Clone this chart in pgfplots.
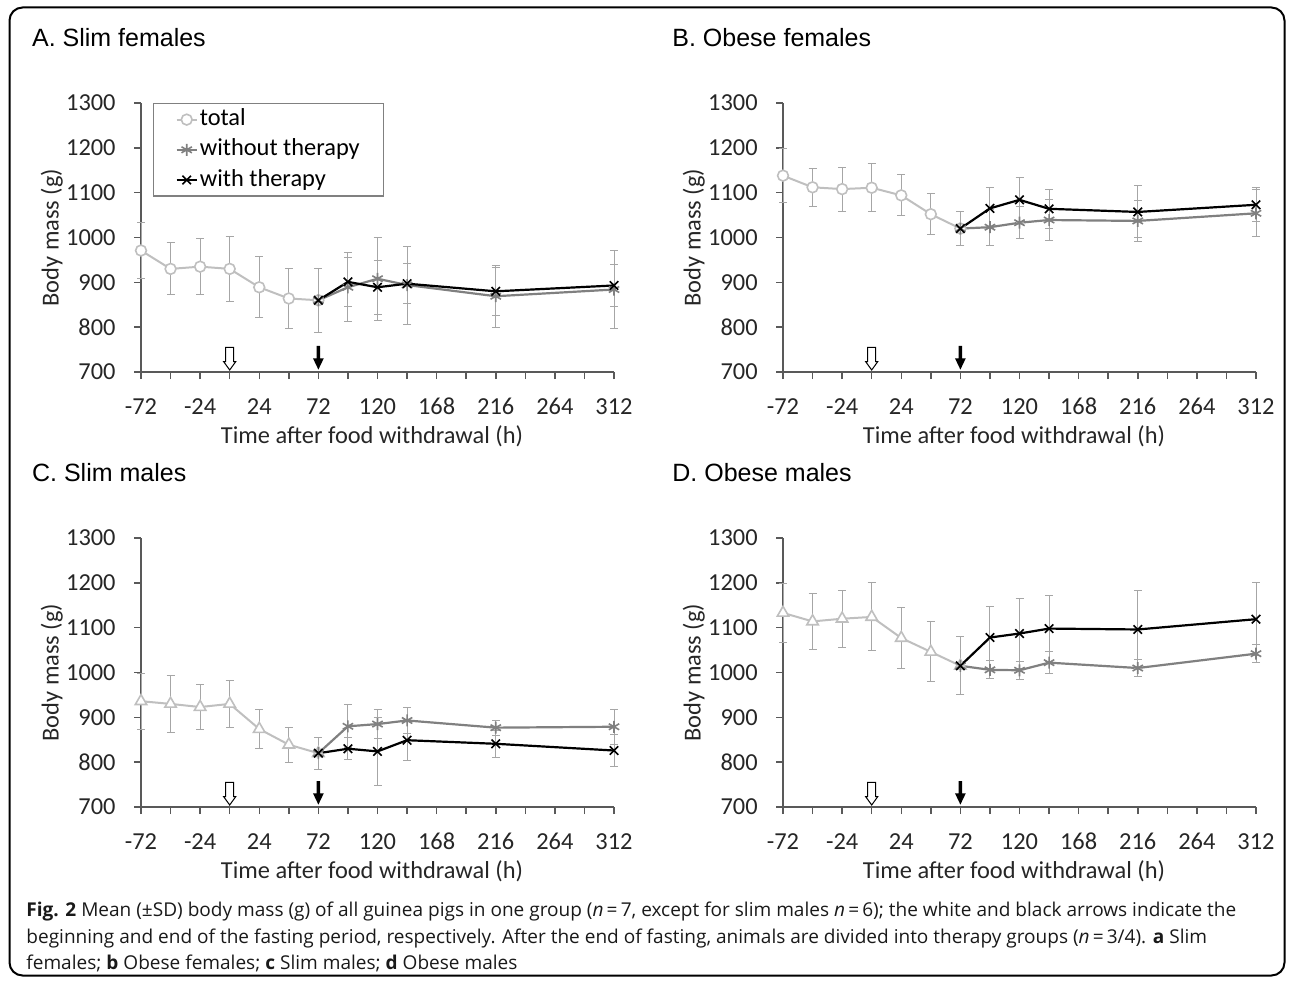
\documentclass[border=0pt]{standalone}
\usepackage{fontspec}
\setmainfont{Carlito}
\newfontfamily\arialfont{Liberation Sans}
\newfontfamily\capfont{Open Sans}
\usepackage{pgfplots}
\usepackage{pgfplotstable}
\pgfplotsset{compat=1.18}

\definecolor{totc}{HTML}{BFBFBF}
\definecolor{woc}{HTML}{808080}
\definecolor{axc}{HTML}{595959}
\definecolor{errc}{HTML}{A6A6A6}

% ---------- data: t = time (h), m = mean body mass (g), e = SD ----------
\pgfplotstableread{
t m e
-72 971 63
-48 930 58
-24 935 63
0 930 72
24 889 68
48 864 67
72 860 71
}\Atot
\pgfplotstableread{
t m e
72 860 0
96 889 77
120 908 93
144 894 87
216 869 69
312 884 88
}\Awo
\pgfplotstableread{
t m e
72 860 0
96 901 55
120 889 60
144 897 45
216 880 54
312 893 47
}\Awi
\pgfplotstableread{
t m e
-72 1138 60
-48 1112 43
-24 1108 49
0 1111 53
24 1094 46
48 1052 46
72 1020 38
}\Btot
\pgfplotstableread{
t m e
72 1020 0
96 1023 40
120 1033 36
144 1039 45
216 1037 45
312 1054 52
}\Bwo
\pgfplotstableread{
t m e
72 1020 0
96 1065 46
120 1084 50
144 1064 44
216 1057 58
312 1073 38
}\Bwi
\pgfplotstableread{
t m e
-72 936 62
-48 930 63
-24 923 51
0 930 53
24 874 43
48 839 39
72 820 36
}\Ctot
\pgfplotstableread{
t m e
72 820 0
96 880 48
120 885 32
144 893 29
216 877 17
312 879 39
}\Cwo
\pgfplotstableread{
t m e
72 820 0
96 830 24
120 824 76
144 849 46
216 841 30
312 826 35
}\Cwi
\pgfplotstableread{
t m e
-72 1133 66
-48 1114 62
-24 1120 64
0 1124 76
24 1077 68
48 1046 67
72 1015 65
}\Dtot
\pgfplotstableread{
t m e
72 1015 0
96 1006 20
120 1005 20
144 1022 24
216 1010 20
312 1042 20
}\Dwo
\pgfplotstableread{
t m e
72 1015 0
96 1078 70
120 1087 78
144 1098 73
216 1096 87
312 1119 82
}\Dwi

\pgfplotsset{
  panel/.style={
    scale only axis, width=236.5pt, height=134.5pt,
    anchor=south west, clip=false,
    xmin=-72, xmax=312, ymin=700, ymax=1300,
    axis lines=left, axis line style={-, draw=axc, line width=0.75pt},
    tick align=outside, major tick length=3.5pt,
    tick style={draw=axc, line width=0.75pt},
    xtick={-72,-48,...,312},
    xticklabels={-72,,-24,,24,,72,,120,,168,,216,,264,,312},
    ytick={700,800,...,1300},
    yticklabels={700,800,900,1000,1100,1200,1300},
    ticklabel style={font=\fontsize{12.2}{14}\selectfont, text=black!85, inner sep=0pt},
    xticklabel style={anchor=north, text height=9pt, text depth=0pt, yshift=-8.3pt},
    yticklabel style={anchor=east, xshift=-9pt},
    legend image code/.code={\draw[mark repeat=2,mark phase=2,##1] plot coordinates {(0pt,0pt) (5pt,0pt) (10pt,0pt)};},
  },
  ebar/.style={error bars/.cd, y dir=both, y explicit,
    error bar style={draw=errc, line width=0.5pt},
    error mark options={rotate=90, draw=errc, mark size=2pt, line width=0.5pt}},
  totcirc/.style={draw=totc, line width=1pt, mark=*, mark size=2.7pt,
    mark options={fill=white, draw=totc, line width=0.8pt, solid}},
  tottri/.style={draw=totc, line width=1pt, mark=triangle*, mark size=3.3pt,
    mark options={fill=white, draw=totc, line width=0.8pt, solid}},
  wo/.style={draw=woc, line width=1.1pt, mark=asterisk, mark size=3pt,
    mark options={draw=woc, line width=0.8pt}},
  wi/.style={draw=black, line width=1.1pt, mark=x, mark size=3pt,
    mark options={draw=black, line width=0.8pt}},
}

\newcommand{\fastarrows}{%
  \filldraw[fill=white, draw=black, line width=0.5pt]
    ([shift={(-2pt,12.35pt)}]axis cs:0,700) -- ([shift={(2pt,12.35pt)}]axis cs:0,700)
    -- ([shift={(2pt,5.15pt)}]axis cs:0,700) -- ([shift={(3pt,5.15pt)}]axis cs:0,700)
    -- ([shift={(0pt,1pt)}]axis cs:0,700) -- ([shift={(-3pt,5.15pt)}]axis cs:0,700)
    -- ([shift={(-2pt,5.15pt)}]axis cs:0,700) -- cycle;
  \fill[black]
    ([shift={(-0.85pt,13pt)}]axis cs:72,700) -- ([shift={(0.85pt,13pt)}]axis cs:72,700)
    -- ([shift={(0.85pt,6.85pt)}]axis cs:72,700) -- ([shift={(2.7pt,6.85pt)}]axis cs:72,700)
    -- ([shift={(0pt,1.2pt)}]axis cs:72,700) -- ([shift={(-2.7pt,6.85pt)}]axis cs:72,700)
    -- ([shift={(-0.85pt,6.85pt)}]axis cs:72,700) -- cycle;
}

\begin{document}
\begin{tikzpicture}[x=0.5pt,y=0.5pt]
\useasboundingbox (0,0) rectangle (1295,982);
\draw[line width=1pt, rounded corners=6.5pt] (9.5,974.5) rectangle (1284.5,6.5);

% ---------------- A ----------------
\begin{axis}[panel, at={(70.5pt,305pt)},
  legend style={at={(0.0254,1)}, anchor=north west, draw=woc, line width=0.6pt,
    font=\fontsize{12.2}{14}\selectfont, inner xsep=11pt, inner ysep=1pt,
    row sep=1.1pt, legend cell align=left,
    nodes={inner sep=1pt, text height=9pt, text depth=3pt}}]
\addplot[totcirc, ebar] table[x=t, y=m, y error=e]{\Atot};
\addlegendentry{total}
\addplot[wo, ebar] table[x=t, y=m, y error=e]{\Awo};
\addlegendentry{without therapy}
\addplot[wi, ebar] table[x=t, y=m, y error=e]{\Awi};
\addlegendentry{with therapy}
\fastarrows
\end{axis}

% ---------------- B ----------------
\begin{axis}[panel, at={(391.5pt,305pt)}]
\addplot[totcirc, ebar] table[x=t, y=m, y error=e]{\Btot};
\addplot[wo, ebar] table[x=t, y=m, y error=e]{\Bwo};
\addplot[wi, ebar] table[x=t, y=m, y error=e]{\Bwi};
\fastarrows
\end{axis}

% ---------------- C ----------------
\begin{axis}[panel, at={(70.5pt,87.5pt)}]
\addplot[tottri, ebar] table[x=t, y=m, y error=e]{\Ctot};
\addplot[wo, ebar] table[x=t, y=m, y error=e]{\Cwo};
\addplot[wi, ebar] table[x=t, y=m, y error=e]{\Cwi};
\fastarrows
\end{axis}

% ---------------- D ----------------
\begin{axis}[panel, at={(391.5pt,87.5pt)}]
\addplot[tottri, ebar] table[x=t, y=m, y error=e]{\Dtot};
\addplot[wo, ebar] table[x=t, y=m, y error=e]{\Dwo};
\addplot[wi, ebar] table[x=t, y=m, y error=e]{\Dwi};
\fastarrows
\end{axis}

% titles
\begin{scope}[every node/.style={anchor=base west, inner sep=0pt, font=\arialfont\fontsize{12.5}{15}\selectfont}]
\node at (31.7,935.3) {A. Slim females};
\node at (672,935.3) {B. Obese females};
\node at (31.7,500.3) {C. Slim males};
\node at (672,500.3) {D. Obese males};
\end{scope}

% axis labels
\begin{scope}[every node/.style={inner sep=0pt, font=\fontsize{12.2}{14}\selectfont, text=black!85}]
\node[rotate=90] at (51.7,744.5) {Body mass (g)};
\node[rotate=90] at (693.7,744.5) {Body mass (g)};
\node[rotate=90] at (51.7,309.5) {Body mass (g)};
\node[rotate=90] at (693.7,309.5) {Body mass (g)};
\node at (372,546) {Time after food withdrawal (h)};
\node at (1014,546) {Time after food withdrawal (h)};
\node at (372,111) {Time after food withdrawal (h)};
\node at (1014,111) {Time after food withdrawal (h)};
\end{scope}

% caption
\begin{scope}[every node/.style={anchor=base west, inner sep=0pt, font=\capfont\fontsize{9.52}{13.5}\selectfont, text=black!90}]
\node at (26,66) {\textbf{Fig. 2} Mean (±SD) body mass (g) of all guinea pigs in one group (\textit{n}\,=\,7, except for slim males \textit{n}\,=\,6); the white and black arrows indicate the};
\node at (26,39) {beginning and end of the fasting period, respectively. After the end of fasting, animals are divided into therapy groups (\textit{n}\,=\,3/4). \textbf{a} Slim};
\node at (26,12.5) {females; \textbf{b} Obese females; \textbf{c} Slim males; \textbf{d} Obese males};
\end{scope}
\end{tikzpicture}
\end{document}
